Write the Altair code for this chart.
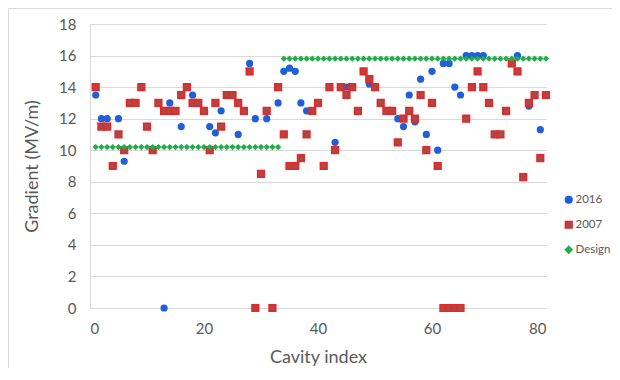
import altair as alt
import pandas as pd

# 2016 measurements (visible points)
blue_idx = [1, 2, 3, 5, 6, 13, 14, 16, 18, 21, 22, 23, 26, 28, 29, 31, 33, 34, 35, 36,
            37, 38, 43, 45, 49, 54, 55, 56, 57, 58, 59, 60, 61, 62, 63, 64, 65, 66, 67, 68,
            69, 75, 77, 79]
blue_val = [13.5, 12, 12, 12, 9.3, 0, 13, 11.5, 13.5, 11.5, 11.1, 12.5, 11, 15.5, 12, 12, 13, 15, 15.2, 15,
            13, 12.5, 10.5, 14, 14.2, 12, 11.5, 13.5, 11.8, 14.5, 11, 15, 10, 15.5, 15.5, 14, 13.5, 16, 16, 16,
            16, 16, 12.8, 11.3]

# 2007 measurements
red_idx = list(range(1, 81))
red_val = [14, 11.5, 11.5, 9, 11, 10, 13, 13, 14, 11.5,
           10, 13, 12.5, 12.5, 12.5, 13.5, 14, 13, 13, 12.5,
           10, 13, 11.5, 13.5, 13.5, 13, 12.5, 15, 0, 8.5,
           12.5, 0, 14, 11, 9, 9, 9.5, 11, 12.5, 13,
           9, 14, 10, 14, 13.5, 14, 12.5, 15, 14.5, 14,
           13, 12.5, 12.5, 10.5, 12, 12.5, 12, 13.5, 10, 13,
           9, 0, 0, 0, 0, 12, 14, 15, 14, 13,
           11, 11, 12.5, 15.5, 15, 8.3, 13, 13.5, 9.5, 13.5]

# Design gradient
design_idx = list(range(1, 81))
design_val = [10.2] * 33 + [15.8] * 47

series_names = ["2016", "2007", "Design"]
x_ticks = [0, 20, 40, 60, 80]
y_ticks = [0, 2, 4, 6, 8, 10, 12, 14, 16, 18]

rows = []
for i, v in zip(blue_idx, blue_val):
    rows.append({"idx": i, "val": v, "series": "2016"})
for i, v in zip(red_idx, red_val):
    rows.append({"idx": i, "val": v, "series": "2007"})
for i, v in zip(design_idx, design_val):
    rows.append({"idx": i, "val": v, "series": "Design"})
df = pd.DataFrame(rows)

FONT = "Lato"
GRAY = "#595959"
LINE = "#d9d9d9"

axis_style = dict(labelFont=FONT, labelFontSize=15, labelColor=GRAY,
                  titleFont=FONT, titleFontSize=18, titleFontWeight=400, titleColor=GRAY)

x_enc = alt.X("idx:Q",
              scale=alt.Scale(domain=[0, 80], nice=False, zero=False),
              axis=alt.Axis(values=x_ticks, grid=False, ticks=False, domain=True,
                            domainColor=LINE, labelPadding=13,
                            title="Cavity index", titleX=228, titleY=49,
                            titleBaseline="middle", titleAlign="center", **axis_style))
y_enc = alt.Y("val:Q",
              scale=alt.Scale(domain=[0, 18], nice=False),
              axis=alt.Axis(values=y_ticks, grid=True, gridColor=LINE, ticks=False,
                            domain=True, domainColor=LINE, labelPadding=14,
                            title="Gradient (MV/m)", titleX=-58, titleY=142,
                            titleAngle=-90, titleBaseline="middle", titleAlign="center",
                            **axis_style))

legend_pos = dict(title=None, orient="none", legendX=473, legendY=170)
fill_enc = alt.Fill("series:N",
                    scale=alt.Scale(domain=series_names, range=["#1f5fd7", "#a94a4a", "#1fae4b"]),
                    legend=alt.Legend(labelFont=FONT, labelFontSize=11.5, labelColor=GRAY,
                                      symbolSize=45, symbolStrokeWidth=1.5, rowPadding=11,
                                      labelOffset=1, padding=0, **legend_pos))
stroke_enc = alt.Stroke("series:N",
                        scale=alt.Scale(domain=series_names, range=["#1f5fd7", "#ee2424", "#1fae4b"]),
                        legend=alt.Legend(**legend_pos))
shape_enc = alt.Shape("series:N",
                      scale=alt.Scale(domain=series_names, range=["circle", "square", "diamond"]),
                      legend=alt.Legend(**legend_pos))

base = alt.Chart(df).encode(x=x_enc, y=y_enc, fill=fill_enc, stroke=stroke_enc, shape=shape_enc)

blue = base.transform_filter(alt.datum.series == "2016").mark_point(
    filled=True, size=52, strokeWidth=0, opacity=1)
red = base.transform_filter(alt.datum.series == "2007").mark_point(
    filled=True, size=44, strokeWidth=1.6, opacity=1)
green = base.transform_filter(alt.datum.series == "Design").mark_point(
    filled=True, size=40, strokeWidth=0, opacity=1)

frame_data = alt.Data(values=[{"k": 1}])
frame_left = alt.Chart(frame_data).mark_rule(color=LINE, strokeWidth=1).encode(
    x=alt.value(-81.5), y=alt.value(-15.5), y2=alt.value(360))
frame_top = alt.Chart(frame_data).mark_rule(color=LINE, strokeWidth=1).encode(
    x=alt.value(-81.5), x2=alt.value(522), y=alt.value(-15.5))

chart = alt.layer(frame_left, frame_top, blue, red, green).properties(
    width=456, height=284,
    background="white",
    autosize=alt.AutoSizeParams(type="none"),
    padding={"left": 82, "top": 16, "right": 66, "bottom": 60},
).configure_view(strokeOpacity=0)

chart.save("out.html", embed_options={"renderer": "svg", "actions": False})
